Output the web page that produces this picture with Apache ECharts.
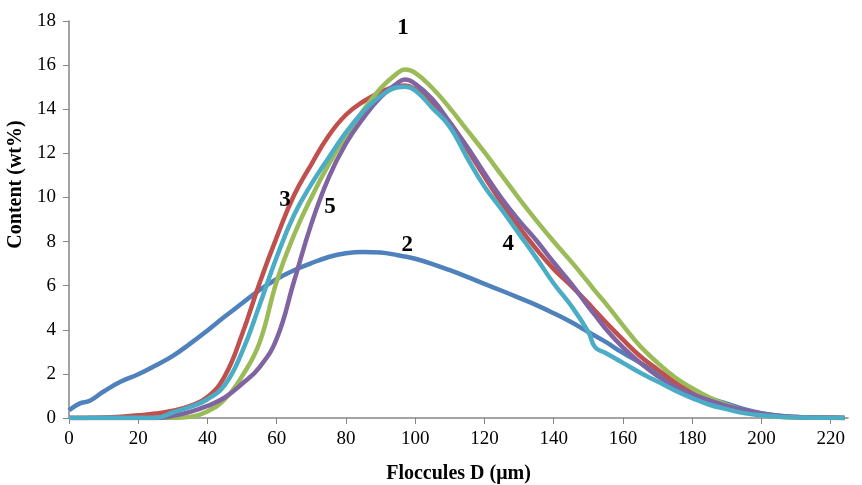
<!DOCTYPE html>
<html>
<head>
<meta charset="utf-8">
<script src="https://cdn.jsdelivr.net/npm/echarts@6/dist/echarts.min.js"></script>
<style>
  html, body { margin: 0; padding: 0; background: #fff; }
  #chart { width: 862px; height: 485px; }
</style>
</head>
<body>
<div id="chart"></div>
<script>
// Floc size D (um), shared by every curve
const sizes = [0, 3, 6, 10, 15, 20, 25, 30, 35, 40, 45, 50, 55, 60, 65, 70, 75, 80, 85, 90, 95, 97, 100, 105, 110, 115, 120, 125, 130, 135, 140, 145, 150, 152, 155, 160, 165, 170, 175, 180, 185, 190, 195, 200, 205, 210, 215, 220, 224]

// Content (wt%) per sample
const sample1 = [0, 0, 0, 0, 0, 0, 0, 0, 0.05, 0.3, 0.85, 1.9, 3.4, 6.2, 8.3, 10.0, 11.5, 12.8, 13.95, 14.95, 15.65, 15.8, 15.65, 14.95, 14.05, 13.05, 12.05, 11.0, 9.95, 8.95, 8.0, 7.1, 6.15, 5.75, 5.2, 4.2, 3.25, 2.5, 1.85, 1.35, 0.93, 0.6, 0.33, 0.15, 0.06, 0.02, 0, 0, 0]
const sample2 = [0.35, 0.65, 0.78, 1.2, 1.65, 1.98, 2.38, 2.82, 3.37, 3.97, 4.6, 5.2, 5.8, 6.3, 6.7, 7.02, 7.3, 7.47, 7.53, 7.5, 7.38, 7.32, 7.22, 6.98, 6.7, 6.4, 6.08, 5.77, 5.45, 5.12, 4.75, 4.35, 3.9, 3.72, 3.45, 2.95, 2.5, 2.03, 1.6, 1.25, 0.9, 0.65, 0.4, 0.22, 0.1, 0.05, 0.02, 0.01, 0]
const sample3 = [0, 0, 0.01, 0.02, 0.06, 0.12, 0.2, 0.33, 0.55, 0.95, 1.9, 3.8, 6.1, 8.2, 10.1, 11.5, 12.8, 13.75, 14.35, 14.78, 15.05, 15.08, 14.9, 14.3, 13.4, 12.2, 10.95, 9.75, 8.65, 7.65, 6.75, 6.0, 5.2, 4.85, 4.35, 3.55, 2.8, 2.2, 1.63, 1.2, 0.85, 0.55, 0.32, 0.17, 0.08, 0.04, 0.02, 0.01, 0]
const sample4 = [0, 0, 0, 0, 0, 0, 0, 0.25, 0.5, 0.85, 1.5, 3.0, 5.1, 7.3, 9.2, 10.6, 11.8, 12.95, 13.9, 14.6, 15.0, 15.02, 14.85, 14.05, 13.2, 11.8, 10.5, 9.45, 8.35, 7.25, 6.1, 5.1, 3.9, 3.2, 2.95, 2.5, 2.05, 1.65, 1.25, 0.9, 0.6, 0.4, 0.22, 0.12, 0.06, 0.03, 0.01, 0, 0]
const sample5 = [0, 0, 0, 0, 0, 0, 0, 0.1, 0.28, 0.55, 0.93, 1.55, 2.3, 3.6, 6.2, 8.8, 10.9, 12.45, 13.6, 14.55, 15.2, 15.35, 15.15, 14.45, 13.4, 12.3, 11.1, 9.95, 8.95, 8.05, 7.05, 6.1, 5.05, 4.65, 4.05, 3.2, 2.5, 1.9, 1.42, 1.08, 0.8, 0.55, 0.35, 0.2, 0.1, 0.05, 0.02, 0.01, 0]

// curve numbers written on the plot
const noteText = ['1', '2', '3', '4', '5']
const noteX = [96.5, 97.7, 62.4, 126.9, 75.4]
const noteY = [17.7, 7.84, 9.87, 7.88, 9.55]

const xTicks = [0, 20, 40, 60, 80, 100, 120, 140, 160, 180, 200, 220]

const pair = (ys) => sizes.map((x, i) => [x, ys[i]])

const chart = echarts.init(document.getElementById('chart'))

const lineSeries = (name, ys, color) => ({
  name,
  type: 'line',
  data: pair(ys),
  smooth: 0.45,
  symbol: 'none',
  lineStyle: { color, width: 4.5 },
  itemStyle: { color },
})

const axisColor = '#868686'
const fontFamily = '"Liberation Serif", "Times New Roman", serif'

chart.setOption({
  animation: false,
  grid: { left: 69, right: 14, top: 21, bottom: 67, outerBoundsMode: 'none' },
  xAxis: {
    type: 'value',
    min: 0,
    max: 225,
    interval: 20,
    name: 'Floccules D (μm)',
    nameLocation: 'middle',
    nameGap: 46,
    nameTextStyle: { fontFamily, fontSize: 20, fontWeight: 'bold', color: '#000' },
    axisLine: { lineStyle: { color: axisColor, width: 1.5 } },
    axisTick: { length: 6, lineStyle: { color: axisColor }, customValues: xTicks },
    axisLabel: { fontFamily, fontSize: 19, color: '#000', margin: 12, customValues: xTicks },
    splitLine: { show: false },
  },
  yAxis: {
    type: 'value',
    min: 0,
    max: 18,
    interval: 2,
    name: 'Content (wt%)',
    nameLocation: 'middle',
    nameGap: 42,
    nameTextStyle: { fontFamily, fontSize: 20, fontWeight: 'bold', color: '#000', padding: [0, 0, 0, 70] },
    axisLine: { show: true, lineStyle: { color: axisColor, width: 1.5 } },
    axisTick: { show: true, length: 6, lineStyle: { color: axisColor } },
    axisLabel: { fontFamily, fontSize: 19, color: '#000', margin: 13 },
    splitLine: { show: false },
  },
  series: [
    lineSeries('2', sample2, '#4F81BD'),
    lineSeries('3', sample3, '#C0504D'),
    lineSeries('1', sample1, '#9BBB59'),
    lineSeries('5', sample5, '#8064A2'),
    lineSeries('4', sample4, '#4BACC6'),
    {
      type: 'scatter',
      symbolSize: 0,
      silent: true,
      data: noteX.map((x, i) => [x, noteY[i], noteText[i]]),
      label: {
        show: true,
        position: [0, 0],
        align: 'center',
        verticalAlign: 'middle',
        formatter: (p) => p.value[2],
        fontFamily,
        fontSize: 23,
        fontWeight: 'bold',
        color: '#000',
        opacity: 1,
        textBorderWidth: 0,
      },
      z: 10,
    },
  ],
})
</script>
</body>
</html>
